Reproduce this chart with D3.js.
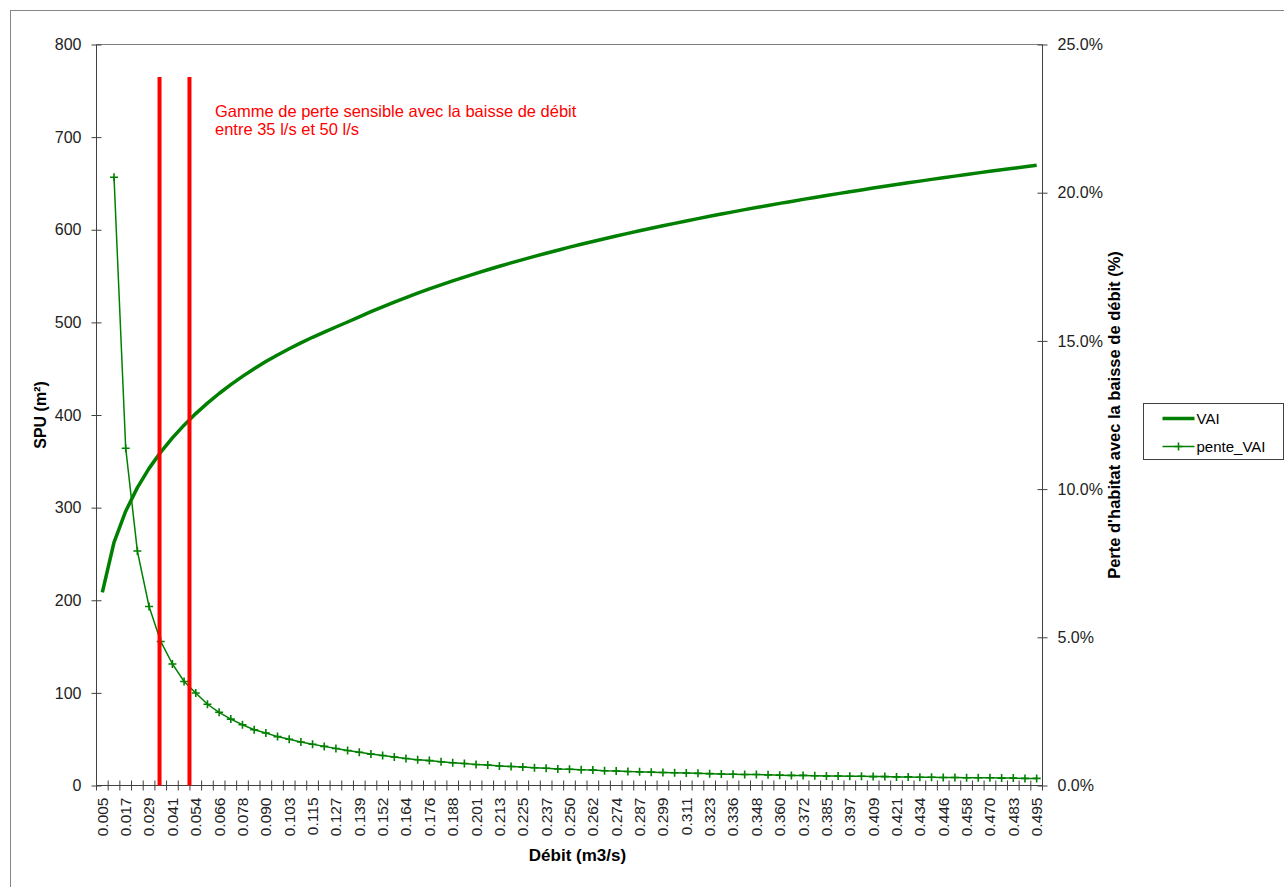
<!DOCTYPE html>
<html>
<head>
<meta charset="utf-8">
<script src="https://cdnjs.cloudflare.com/ajax/libs/d3/7.8.5/d3.min.js"></script>
<style>
  body { margin: 0; background: #fff; }
  svg { display: block; font-family: "Liberation Sans", Arial, sans-serif; }
</style>
</head>
<body>
<svg id="chart" width="1284" height="887"></svg>
<script>
// débit categories (m3/s), one every ~6 l/s ; every other one is labelled
const debit = [
  '0.005','0.011','0.017','0.023','0.029','0.035','0.041','0.048','0.054','0.060',
  '0.066','0.072','0.078','0.084','0.090','0.097','0.103','0.109','0.115','0.121',
  '0.127','0.133','0.139','0.146','0.152','0.158','0.164','0.170','0.176','0.182',
  '0.188','0.195','0.201','0.207','0.213','0.219','0.225','0.231','0.237','0.244',
  '0.250','0.256','0.262','0.268','0.274','0.281','0.287','0.293','0.299','0.305',
  '0.311','0.317','0.323','0.329','0.336','0.342','0.348','0.354','0.360','0.366',
  '0.372','0.378','0.385','0.391','0.397','0.403','0.409','0.415','0.421','0.428',
  '0.434','0.440','0.446','0.452','0.458','0.464','0.470','0.477','0.483','0.489',
  '0.495'
]

// SPU (m²)
const vai = [
  208.5, 262.6, 296.1, 321.6, 342.4, 359.9, 375.3, 389.0, 401.5, 412.8,
  423.2, 432.8, 441.7, 450.0, 457.7, 464.8, 471.5, 477.9, 483.9, 489.5,
  495.0, 500.4, 506.0, 511.5, 516.8, 521.9, 526.8, 531.6, 536.1, 540.5,
  544.8, 548.9, 552.9, 556.8, 560.6, 564.2, 567.8, 571.3, 574.6, 577.9,
  581.2, 584.3, 587.3, 590.3, 593.3, 596.1, 598.9, 601.6, 604.3, 606.9,
  609.5, 612.0, 614.5, 617.0, 619.3, 621.7, 624.0, 626.2, 628.5, 630.6,
  632.8, 634.9, 637.0, 639.0, 641.1, 643.0, 645.0, 646.9, 648.8, 650.7,
  652.5, 654.4, 656.1, 657.9, 659.7, 661.4, 663.1, 664.8, 666.4, 668.0,
  669.7
]

// perte d'habitat (%)
const penteVai = [
  null, 20.52, 11.38, 7.91, 6.04, 4.86, 4.10, 3.51, 3.12, 2.74,
  2.47, 2.24, 2.05, 1.88, 1.77, 1.65, 1.56, 1.47, 1.39, 1.32,
  1.25, 1.18, 1.12, 1.06, 1.01, 0.96, 0.91, 0.87, 0.84, 0.80,
  0.77, 0.74, 0.71, 0.69, 0.66, 0.64, 0.62, 0.60, 0.58, 0.56,
  0.55, 0.53, 0.52, 0.50, 0.49, 0.47, 0.46, 0.45, 0.44, 0.43,
  0.42, 0.41, 0.40, 0.39, 0.38, 0.37, 0.37, 0.36, 0.35, 0.34,
  0.34, 0.33, 0.32, 0.32, 0.31, 0.31, 0.30, 0.30, 0.29, 0.29,
  0.28, 0.28, 0.27, 0.27, 0.26, 0.26, 0.26, 0.25, 0.25, 0.24,
  0.24
]

const spuTicks = [0, 100, 200, 300, 400, 500, 600, 700, 800]
const perteTicks = [0, 5, 10, 15, 20, 25]
const rangeLines = [0.035, 0.0507]   // limites de la gamme (m3/s)
const rangeText = ['Gamme de perte sensible avec la baisse de débit', 'entre 35 l/s et 50 l/s']

const green = '#008000', red = '#ff0000', axisCol = '#404040'
const pL = 96.5, pR = 1042.5, pT = 44.5, pB = 785.5

const svg = d3.select('#chart')

// chart area frame
svg.append('rect')
    .attr('x', 10.5).attr('y', 10.5)
    .attr('width', 1300).attr('height', 900)
    .style('fill', '#fff').style('stroke', '#868686').style('stroke-width', 1)

const x = d3.scaleBand().domain(debit).range([pL, pR]).padding(0)
const bw = x.bandwidth()
const xc = d => x(d) + bw / 2
const xq = d3.scaleLinear()
    .domain([+debit[0], +debit[debit.length - 1]])
    .range([xc(debit[0]), xc(debit[debit.length - 1])])
const y = d3.scaleLinear().domain([0, 800]).range([pB, pT])
const y2 = d3.scaleLinear().domain([0, 25]).range([pB, pT])

// plot area top border
svg.append('line')
    .attr('x1', pL).attr('x2', pR).attr('y1', pT).attr('y2', pT)
    .style('stroke', '#808080')

// left axis
const yAxis = svg.append('g')
    .attr('transform', `translate(${pL},0)`)
    .call(d3.axisLeft(y).tickValues(spuTicks).tickSize(5).tickPadding(10))
yAxis.selectAll('.tick line').attr('x2', 5).attr('x1', -5)

// right axis
const y2Axis = svg.append('g')
    .attr('transform', `translate(${pR},0)`)
    .call(d3.axisRight(y2).tickValues(perteTicks).tickSize(5).tickPadding(10)
      .tickFormat(d => d.toFixed(1) + '%'))
y2Axis.selectAll('.tick line').attr('x1', -5).attr('x2', 5)

;[yAxis, y2Axis].forEach(g => {
  g.select('.domain').attr('d', `M0,${pT}V${pB}`).style('stroke', axisCol)
  g.selectAll('.tick line').style('stroke', axisCol)
  g.selectAll('.tick text').style('font-size', '16px').style('fill', '#222')
})

// bottom axis: ticks between categories, labels on every other category
const xAxis = svg.append('g').attr('transform', `translate(0,${pB})`)
xAxis.append('line')
    .attr('x1', pL).attr('x2', pR)
    .style('stroke', axisCol)
xAxis.selectAll('line.tk')
    .data(debit.concat(['end']))
    .enter().append('line')
    .attr('class', 'tk')
    .attr('x1', d => d === 'end' ? pR : x(d))
    .attr('x2', d => d === 'end' ? pR : x(d))
    .attr('y1', -5).attr('y2', 5)
    .style('stroke', axisCol)
xAxis.selectAll('text')
    .data(debit.filter((d, i) => i % 2 === 0))
    .enter().append('text')
    .attr('transform', d => `translate(${xc(d)},12) rotate(-90)`)
    .attr('dy', '0.35em')
    .attr('text-anchor', 'end')
    .style('font-size', '15.5px')
    .style('fill', '#222')
    .text(d => d)

// axis titles
svg.append('text')
    .attr('transform', `translate(46,${(pT + pB) / 2}) rotate(-90)`)
    .attr('text-anchor', 'middle')
    .style('font-size', '16px').style('font-weight', 'bold')
    .text('SPU (m²)')

svg.append('text')
    .attr('transform', `translate(1120,${(pT + pB) / 2}) rotate(-90)`)
    .attr('text-anchor', 'middle')
    .style('font-size', '16.5px').style('font-weight', 'bold')
    .text("Perte d'habitat avec la baisse de débit (%)")

svg.append('text')
    .attr('x', (pL + pR) / 2 + 8).attr('y', 861)
    .attr('text-anchor', 'middle')
    .style('font-size', '17px').style('font-weight', 'bold')
    .text('Débit (m3/s)')

// VAI curve
const lineVai = d3.line()
    .x((d, i) => xc(debit[i]))
    .y(d => y(d))
svg.append('path')
    .datum(vai)
    .attr('d', lineVai)
    .style('fill', 'none').style('stroke', green).style('stroke-width', 3.5)
    .style('stroke-linejoin', 'round')

// pente_VAI curve with + markers
const pentePts = penteVai.map((v, i) => ({ q: debit[i], v: v })).filter(d => d.v != null)
const linePente = d3.line()
    .x(d => xc(d.q))
    .y(d => y2(d.v))
svg.append('path')
    .datum(pentePts)
    .attr('d', linePente)
    .style('fill', 'none').style('stroke', green).style('stroke-width', 1.5)
svg.append('g').selectAll('path')
    .data(pentePts)
    .enter().append('path')
    .attr('d', d => `M${xc(d.q) - 4},${y2(d.v)}h8M${xc(d.q)},${y2(d.v) - 4}v8`)
    .style('stroke', green).style('stroke-width', 1.6)

// range lines + note
svg.append('g').selectAll('line')
    .data(rangeLines)
    .enter().append('line')
    .attr('x1', d => xq(d)).attr('x2', d => xq(d))
    .attr('y1', 77).attr('y2', pB)
    .style('stroke', red).style('stroke-width', 4)

svg.append('g').selectAll('text')
    .data(rangeText)
    .enter().append('text')
    .attr('x', 215)
    .attr('y', (d, i) => 117 + i * 18)
    .style('font-size', '16.5px').style('fill', red)
    .text(d => d)

// legend
const legend = svg.append('g').attr('transform', 'translate(1143.5,403.5)')
legend.append('rect')
    .attr('width', 140).attr('height', 56)
    .style('fill', '#fff').style('stroke', axisCol)
legend.append('line')
    .attr('x1', 19).attr('x2', 51).attr('y1', 15).attr('y2', 15)
    .style('stroke', green).style('stroke-width', 3.5)
legend.append('text').attr('x', 53).attr('y', 20)
    .style('font-size', '15px').text('VAI')
legend.append('line')
    .attr('x1', 19).attr('x2', 51).attr('y1', 43).attr('y2', 43)
    .style('stroke', green).style('stroke-width', 1.5)
legend.append('path')
    .attr('d', 'M31,43h8M35,39v8')
    .style('stroke', green).style('stroke-width', 1.6)
legend.append('text').attr('x', 53).attr('y', 48)
    .style('font-size', '15px').text('pente_VAI')
</script>
</body>
</html>
